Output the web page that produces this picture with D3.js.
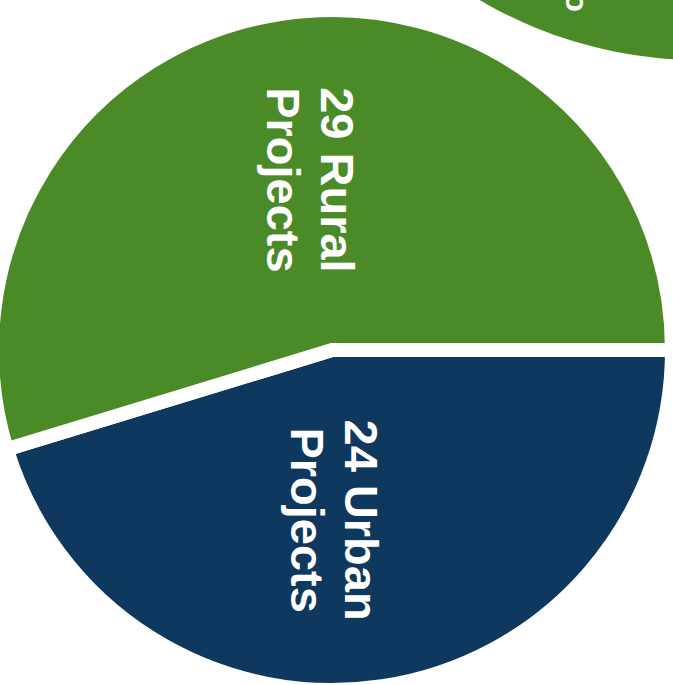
<!DOCTYPE html>
<html>
<head>
<meta charset="utf-8">
<script src="https://cdn.jsdelivr.net/npm/d3@7"></script>
<style>
  body { margin: 0; background: #fff; }
  svg { display: block; }
</style>
</head>
<body>
<svg></svg>
<script>
let categories = ['Urban', 'Rural']
let counts = [24, 29]
let labelLines = [['24 Urban', 'Projects'], ['29 Rural', 'Projects']]
let colors = ['#0e385e', '#4a8b28']

// the next chart on the page, only its edge shows at the top right
let neighbourLabel = ['o']
let neighbourColor = '#4a8b28'

let width = 673
let height = 685
let cx = 332
let cy = 350
let radius = 333
let gap = 14
let fontSize = 47
let lineGap = 54
let labelRadius = 172
let labelNudge = [-22, 4]

let svg = d3.select('svg')
    .attr('width', width)
    .attr('height', height)

// neighbour circle
let neighbour = svg.append('g')
    .attr('transform', 'translate(700, -375)')

neighbour.append('path')
    .attr('d', d3.arc().innerRadius(0).outerRadius(435)({startAngle: 0, endAngle: 2 * Math.PI}))
    .attr('fill', neighbourColor)

neighbour.selectAll('text')
    .data(neighbourLabel)
    .enter()
    .append('text')
    .attr('transform', 'translate(-134, 387) rotate(90)')
    .attr('text-anchor', 'end')
    .attr('fill', '#fff')
    .style('font', 'bold 31px "Liberation Sans", Arial, sans-serif')
    .text(d => d)

// main pie
let pie = d3.pie()
    .sort(null)
    .value(d => d)
    .startAngle(Math.PI / 2)
    .endAngle(Math.PI / 2 + 2 * Math.PI)

let arcs = pie(counts)

let arc = d3.arc()
    .innerRadius(0)
    .outerRadius(radius + gap / 2)

let labelArc = d3.arc()
    .innerRadius(labelRadius)
    .outerRadius(labelRadius)

let g = svg.append('g')
    .attr('transform', 'translate(' + cx + ', ' + cy + ')')

g.selectAll('path')
    .data(arcs)
    .enter()
    .append('path')
    .attr('class', (d, i) => 'slice ' + categories[i])
    .attr('d', arc)
    .attr('fill', (d, i) => colors[i])
    .attr('stroke', '#fff')
    .attr('stroke-width', gap)

let labels = g.selectAll('.label')
    .data(arcs)
    .enter()
    .append('text')
    .attr('class', 'label')
    .attr('transform', (d, i) => {
        let c = labelArc.centroid(d)
        return 'translate(' + (c[0] + labelNudge[i]) + ', ' + c[1] + ') rotate(90)'
    })
    .attr('text-anchor', 'middle')
    .attr('fill', '#fff')
    .style('font', 'bold ' + fontSize + 'px "Liberation Sans", Arial, sans-serif')

labels.selectAll('tspan')
    .data((d, i) => labelLines[i])
    .enter()
    .append('tspan')
    .attr('x', 0)
    .attr('y', (line, j) => -10 + j * lineGap)
    .text(line => line)
</script>
</body>
</html>
